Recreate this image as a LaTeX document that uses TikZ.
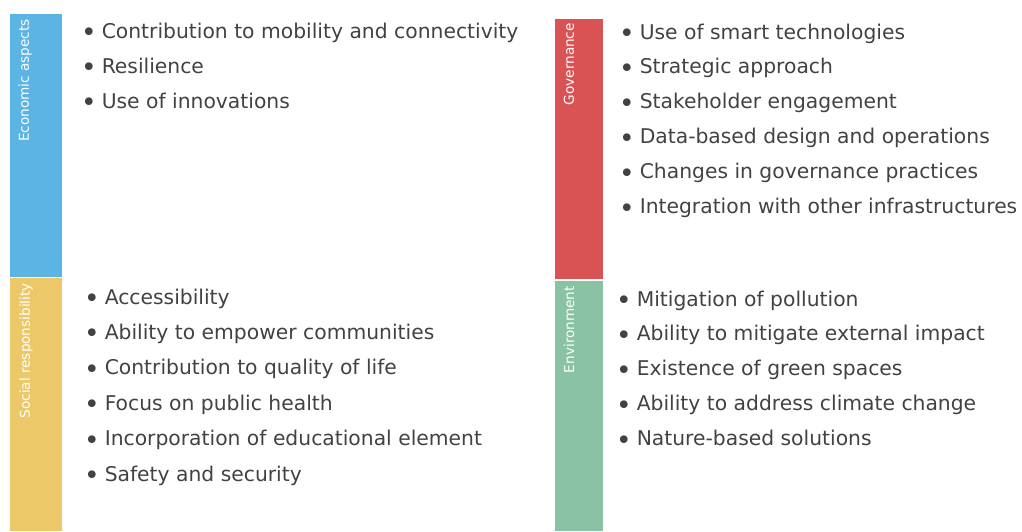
\documentclass[tikz,border=0pt]{standalone}
\usepackage{fontspec}
\usepackage{graphicx}
\setmainfont{DejaVu Sans}
\usetikzlibrary{positioning}

\definecolor{ecoblue}{RGB}{92,180,228}
\definecolor{socyellow}{RGB}{236,200,104}
\definecolor{govred}{RGB}{218,83,84}
\definecolor{envgreen}{RGB}{138,194,164}
\definecolor{itemgray}{RGB}{66,66,66}

\newcommand{\itembullet}{\raisebox{-3.5pt}{\scalebox{1.3}{\textbullet}}\hspace{5pt}}

\begin{document}
\begin{tikzpicture}[x=1pt, y=-1pt,
    bar/.style={inner sep=0pt, outer sep=0pt, anchor=north west, minimum width=52pt},
    barlabel/.style={rotate=90, anchor=east, inner sep=0pt, text=white,
                     font=\fontsize{13.6}{15}\selectfont},
    item/.style={anchor=base west, inner sep=0pt, text=itemgray,
                 font=\fontsize{20.3}{24}\selectfont},
]
    \useasboundingbox (0,0) rectangle (1022,531);

    % coloured bars
    \node[bar, fill=ecoblue, minimum height=263pt] (eco) at (10,14) {};
    \node[bar, fill=socyellow, minimum height=253pt] (soc) at (10,278) {};
    \node[bar, fill=govred, minimum width=48pt, minimum height=260pt] (gov) at (555,19) {};
    \node[bar, fill=envgreen, minimum width=48pt, minimum height=250pt] (env) at (555,281) {};

    \node[barlabel] (eco-label) at (25,19) {Economic aspects};
    \node[barlabel] (soc-label) at (26,283) {Social responsibility};
    \node[barlabel] (gov-label) at (569,23) {Governance};
    \node[barlabel] (env-label) at (569,286) {Environment};

    % lists
    \foreach \txt [count=\i] in {Contribution to mobility and connectivity, Resilience, Use of innovations}
        \node[item] (eco-\i) at ({81}, {38.3+35*(\i-1)}) {\itembullet\txt};
    \foreach \txt [count=\i] in {Accessibility, Ability to empower communities,
            Contribution to quality of life, Focus on public health,
            Incorporation of educational element, Safety and security}
        \node[item] (soc-\i) at ({84}, {304+35.4*(\i-1)}) {\itembullet\txt};
    \foreach \txt [count=\i] in {Use of smart technologies, Strategic approach,
            Stakeholder engagement, Data-based design and operations,
            Changes in governance practices, Integration with other infrastructures}
        \node[item] (gov-\i) at ({619}, {39+34.9*(\i-1)}) {\itembullet\txt};
    \foreach \txt [count=\i] in {Mitigation of pollution, Ability to mitigate external impact,
            Existence of green spaces, Ability to address climate change,
            Nature-based solutions}
        \node[item] (env-\i) at ({616}, {306+34.9*(\i-1)}) {\itembullet\txt};
\end{tikzpicture}
\end{document}
